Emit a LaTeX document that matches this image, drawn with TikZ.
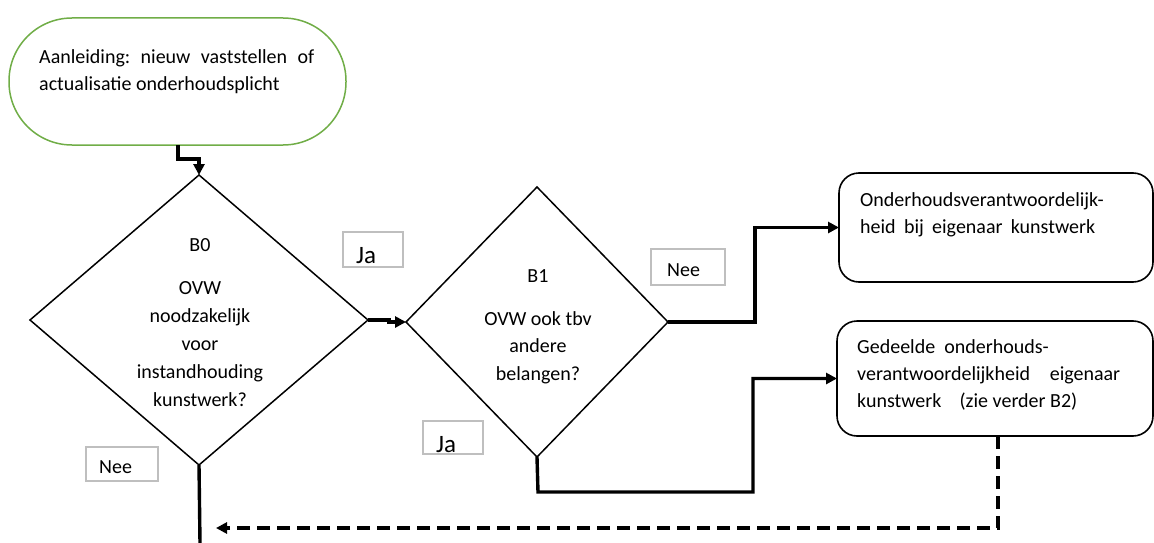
\documentclass[tikz,border=0pt]{standalone}
\usepackage{fontspec}
\setmainfont{Carlito}
\usetikzlibrary{shapes.geometric,arrows.meta}
\definecolor{startgreen}{HTML}{70AD47}
\definecolor{lblgray}{HTML}{BFBFBF}
\begin{document}
\begin{tikzpicture}[x=1pt,y=-1pt,
  conn/.style={line width=3.4pt,-{Triangle[length=11pt,width=11pt]}},
  plain/.style={line width=3.4pt},
  dconn/.style={conn,dash pattern=on 13pt off 7pt},
  dia/.style={diamond,draw,line width=1.5pt,outer sep=0pt,inner sep=0pt},
  rbox/.style={draw,line width=1.6pt,rounded corners=20pt,outer sep=0pt,inner sep=0pt},
  startbox/.style={draw=startgreen,line width=1.5pt,rounded corners=63pt,outer sep=0pt,inner sep=0pt},
  lbl/.style={draw=lblgray,line width=1.2pt,inner sep=0pt,outer sep=0pt},
  txt/.style={font=\fontsize{20}{27.5}\selectfont,inner sep=0pt},
  dtxt/.style={font=\fontsize{20}{28}\selectfont,inner sep=0pt,align=center,anchor=base},
  jatxt/.style={font=\fontsize{25}{30}\selectfont,inner sep=0pt,anchor=base west}
]
\useasboundingbox (0,0) rectangle (1154,543);

% start
\node[startbox,minimum width=337pt,minimum height=127pt] (start) at (177.5,81.5) {};
\node[txt,anchor=base west,align=left,font=\fontsize{20}{27}\selectfont] (starttxt) at (39,90)
  {\hbox to 275pt{Aanleiding:\hfill nieuw\hfill vaststellen\hfill of}\\actualisatie onderhoudsplicht};

% decisions
\node[dia,minimum width=338pt,minimum height=290pt] (b0) at (199,320) {};
\node[dtxt] (b0t) at (200,251) {B0};
\node[dtxt] (b0q) at (200,406) {OVW\\noodzakelijk\\voor\\instandhouding\\kunstwerk?};

\node[dia,minimum width=262pt,minimum height=270pt] (b1) at (537,322) {};
\node[dtxt] (b1t) at (538,282) {B1};
\node[dtxt,font=\fontsize{20}{27.5}\selectfont] (b1q) at (538,380) {OVW ook tbv\\andere\\belangen?};

% outcome boxes
\node[rbox,minimum width=314pt,minimum height=109pt] (box1) at (996,227.5) {};
\node[txt,anchor=base west,align=left,font=\fontsize{20}{26.5}\selectfont] (box1t) at (860,233)
  {\hbox to 255pt{Onderhoudsverantwoordelijk-\hfil}\\\hbox to 235pt{heid\hfill bij\hfill eigenaar\hfill kunstwerk}};

\node[rbox,minimum width=316pt,minimum height=115pt] (box2) at (995,378.5) {};
\node[txt,anchor=base west,align=left,font=\fontsize{20}{27}\selectfont] (box2t) at (857,407)
  {Gedeelde\ \ onderhouds-\\\hbox to 263pt{verantwoordelijkheid\hfill eigenaar}\\\hbox to 220pt{kunstwerk\hfill\ (zie verder B2)}};

% labels
\node[lbl,minimum width=60pt,minimum height=35pt] (ja1box) at (373,249.5) {};
\node[jatxt] (ja1) at (356,263) {Ja};
\node[lbl,minimum width=60pt,minimum height=33pt] (ja2box) at (453,437.5) {};
\node[jatxt] (ja2) at (436,452) {Ja};
\node[lbl,minimum width=72pt,minimum height=34pt] (nee1box) at (122,464) {};
\node[txt,anchor=base west] (nee1) at (99,473) {Nee};
\node[lbl,minimum width=74pt,minimum height=36pt] (nee2box) at (688,267) {};
\node[txt,anchor=base west] (nee2) at (667,276) {Nee};

% connectors
\draw[conn] (178,145) -- (178,159) -| (b0.north);
\draw[conn] (b0.east) -- ++(21,0) |- (b1.west);
\draw[conn] (b1.east) -- (755,322) |- (box1.west);
\draw[conn] (b1.south) -- (538,492) -- (753,492) |- (box2.west);
\coordinate (dashend) at (216,528);
\draw[dconn] ([xshift=3pt]box2.south) |- (dashend);
\coordinate (b0end) at (200,543);
\draw[plain] (b0.south) -- (b0end);
\end{tikzpicture}
\end{document}
